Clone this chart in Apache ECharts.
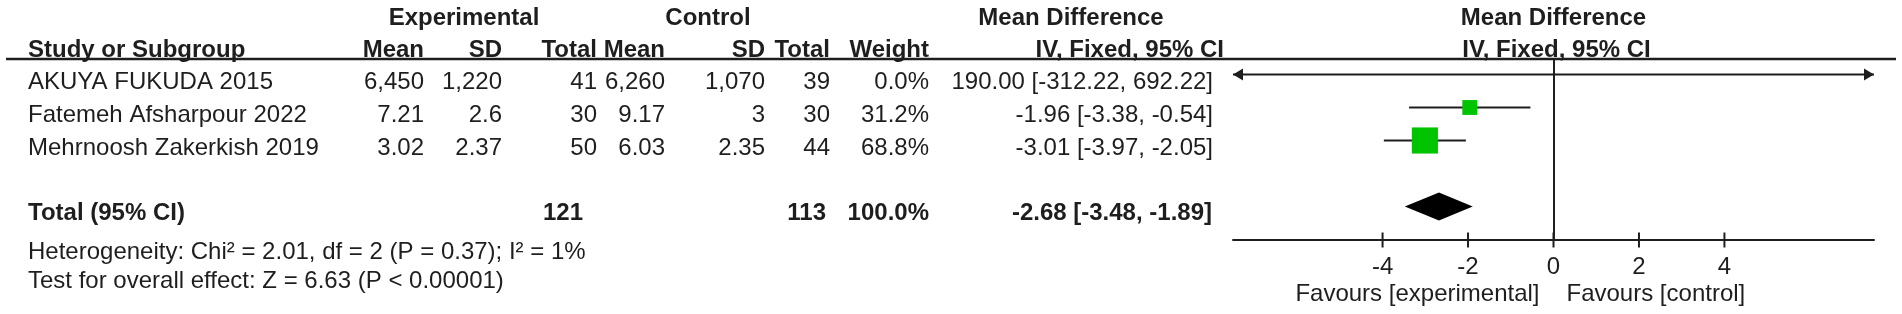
<!DOCTYPE html>
<html>
<head>
<meta charset="utf-8">
<script src="https://cdn.jsdelivr.net/npm/echarts@6/dist/echarts.min.js"></script>
<style>
html, body { margin: 0; padding: 0; background: #fff; }
#forest { width: 1902px; height: 314px; }
</style>
</head>
<body>
<div id="forest"></div>
<script>
// study rows
var studies = ['AKUYA FUKUDA 2015', 'Fatemeh Afsharpour 2022', 'Mehrnoosh Zakerkish 2019'];
var expMean = ['6,450', '7.21', '3.02'];
var expSD = ['1,220', '2.6', '2.37'];
var expN = [41, 30, 50];
var ctrlMean = ['6,260', '9.17', '6.03'];
var ctrlSD = ['1,070', '3', '2.35'];
var ctrlN = [39, 30, 44];
var weights = [0.0, 31.2, 68.8];
var md = [190.00, -1.96, -3.01];
var ciLow = [-312.22, -3.38, -3.97];
var ciHigh = [692.22, -0.54, -2.05];

// pooled
var totalExpN = 121;
var totalCtrlN = 113;
var totalWeight = 100.0;
var totalMd = -2.68;
var totalLow = -3.48;
var totalHigh = -1.89;

var heterogeneity = 'Heterogeneity: Chi² = 2.01, df = 2 (P = 0.37); I² = 1%';
var overallTest = 'Test for overall effect: Z = 6.63 (P < 0.00001)';

var tickValues = [-4, -2, 0, 2, 4];
var xMin = -7.5, xMax = 7.5;

var FONT = '"Liberation Sans", Arial, sans-serif';
var INK = '#1e1e1e';
var GREEN = '#00c400';

var totalRow = 4;
var axisRow = 5;
var ciData = studies.map(function (s, i) {
    return [md[i], ciLow[i], ciHigh[i], i, weights[i]];
});

function fmtCI(m, l, h) {
    return m.toFixed(2) + ' [' + l.toFixed(2) + ', ' + h.toFixed(2) + ']';
}

function renderCI(params, api) {
    var m = api.value(0), lo = api.value(1), hi = api.value(2), row = api.value(3), w = api.value(4);
    var a = api.coord([Math.max(lo, xMin), row]);
    var b = api.coord([Math.min(hi, xMax), row]);
    var kids = [{
        type: 'line',
        shape: { x1: a[0], y1: a[1], x2: b[0], y2: b[1] },
        style: { stroke: INK, lineWidth: 2 }
    }];
    if (lo < xMin) {
        kids.push({ type: 'polygon', shape: { points: [[a[0], a[1]], [a[0] + 10, a[1] - 6], [a[0] + 10, a[1] + 6]] }, style: { fill: INK } });
    }
    if (hi > xMax) {
        kids.push({ type: 'polygon', shape: { points: [[b[0], b[1]], [b[0] - 10, b[1] - 6], [b[0] - 10, b[1] + 6]] }, style: { fill: INK } });
    }
    if (w > 0 && m >= xMin && m <= xMax) {
        var c = api.coord([m, row]);
        var size = 5.5 + w * 0.3;
        kids.push({ type: 'rect', shape: { x: c[0] - size / 2, y: c[1] - size / 2, width: size, height: size }, style: { fill: GREEN } });
    }
    return { type: 'group', children: kids };
}

function renderDiamond(params, api) {
    var row = api.value(3);
    var l = api.coord([api.value(1), row]);
    var c = api.coord([api.value(0), row]);
    var r = api.coord([api.value(2), row]);
    return {
        type: 'polygon',
        shape: { points: [[l[0], l[1]], [c[0], c[1] - 14], [r[0], r[1]], [c[0], c[1] + 14]] },
        style: { fill: '#000' }
    };
}

// ticks cross the axis line on both sides
function renderTick(params, api) {
    var p = api.coord([api.value(0), axisRow]);
    return {
        type: 'line',
        shape: { x1: p[0], y1: p[1] - 7, x2: p[0], y2: p[1] + 8 },
        style: { stroke: INK, lineWidth: 2 }
    };
}

var chart = echarts.init(document.getElementById('forest'), null, { renderer: 'canvas' });

var option = {
    animation: false,
    grid: { left: 1233, top: 58, width: 641, height: 181.5 },
    xAxis: {
        type: 'value',
        min: xMin,
        max: xMax,
        axisLine: { show: true, onZero: false, lineStyle: { color: INK, width: 2 } },
        axisTick: { show: false },
        axisLabel: { show: true, customValues: tickValues, margin: 16, fontSize: 24, fontFamily: FONT, color: INK },
        splitLine: { show: false }
    },
    yAxis: { type: 'value', inverse: true, min: -0.5, max: axisRow, show: false },
    series: [
        {
            type: 'custom',
            name: 'studies',
            clip: false,
            renderItem: renderCI,
            encode: { x: [0, 1, 2], y: 3 },
            data: ciData,
            markLine: {
                silent: true,
                symbol: 'none',
                label: { show: false },
                lineStyle: { color: INK, width: 2, type: 'solid' },
                data: [{ xAxis: 0 }]
            }
        },
        {
            type: 'custom',
            name: 'total',
            clip: false,
            renderItem: renderDiamond,
            encode: { x: [0, 1, 2], y: 3 },
            data: [[totalMd, totalLow, totalHigh, totalRow]]
        },
        {
            type: 'custom',
            name: 'ticks',
            clip: false,
            renderItem: renderTick,
            encode: { x: 0 },
            data: tickValues.map(function (v) { return [v]; })
        }
    ]
};
chart.setOption(option);

// table text, placed on the same rows as the plot
function txt(s, x, y, align, bold) {
    return {
        type: 'text', x: x, y: y, silent: true,
        style: {
            text: s, fill: INK, align: align, verticalAlign: 'middle',
            font: (bold ? 'bold ' : '') + '24px ' + FONT
        }
    };
}

var els = [];
var h1 = 18, h2 = 50;
els.push(txt('Experimental', 464, h1, 'center', true));
els.push(txt('Control', 708, h1, 'center', true));
els.push(txt('Mean Difference', 1071, h1, 'center', true));
els.push(txt('Study or Subgroup', 28, h2, 'left', true));
els.push(txt('Mean', 424, h2, 'right', true));
els.push(txt('SD', 502, h2, 'right', true));
els.push(txt('Total', 597, h2, 'right', true));
els.push(txt('Mean', 665, h2, 'right', true));
els.push(txt('SD', 765, h2, 'right', true));
els.push(txt('Total', 830, h2, 'right', true));
els.push(txt('Weight', 929, h2, 'right', true));
els.push(txt('IV, Fixed, 95% CI', 1224, h2, 'right', true));

var zeroX = chart.convertToPixel({ xAxisIndex: 0 }, 0);
els.push(txt('Mean Difference', zeroX, h1, 'center', true));
els.push(txt('IV, Fixed, 95% CI', zeroX + 3, h2, 'center', true));

els.push({
    type: 'line', silent: true,
    shape: { x1: 6, y1: 59, x2: 1896, y2: 59 },
    style: { stroke: INK, lineWidth: 2.5 }
});

studies.forEach(function (s, i) {
    var y = chart.convertToPixel({ yAxisIndex: 0 }, i) + 7.5;
    els.push(txt(s, 28, y, 'left', false));
    els.push(txt(expMean[i], 424, y, 'right', false));
    els.push(txt(expSD[i], 502, y, 'right', false));
    els.push(txt(String(expN[i]), 597, y, 'right', false));
    els.push(txt(ctrlMean[i], 665, y, 'right', false));
    els.push(txt(ctrlSD[i], 765, y, 'right', false));
    els.push(txt(String(ctrlN[i]), 830, y, 'right', false));
    els.push(txt(weights[i].toFixed(1) + '%', 929, y, 'right', false));
    els.push(txt(fmtCI(md[i], ciLow[i], ciHigh[i]), 1213, y, 'right', false));
});

var ty = chart.convertToPixel({ yAxisIndex: 0 }, totalRow) + 7;
els.push(txt('Total (95% CI)', 28, ty, 'left', true));
els.push(txt(String(totalExpN), 583, ty, 'right', true));
els.push(txt(String(totalCtrlN), 826, ty, 'right', true));
els.push(txt(totalWeight.toFixed(1) + '%', 929, ty, 'right', true));
els.push(txt(fmtCI(totalMd, totalLow, totalHigh), 1212, ty, 'right', true));

els.push(txt(heterogeneity, 28, 252, 'left', false));
els.push(txt(overallTest, 28, 281, 'left', false));

els.push(txt('Favours [experimental]', zeroX - 14, 294, 'right', false));
els.push(txt('Favours [control]', zeroX + 13, 294, 'left', false));

chart.setOption({ graphic: { elements: els } });
</script>
</body>
</html>
